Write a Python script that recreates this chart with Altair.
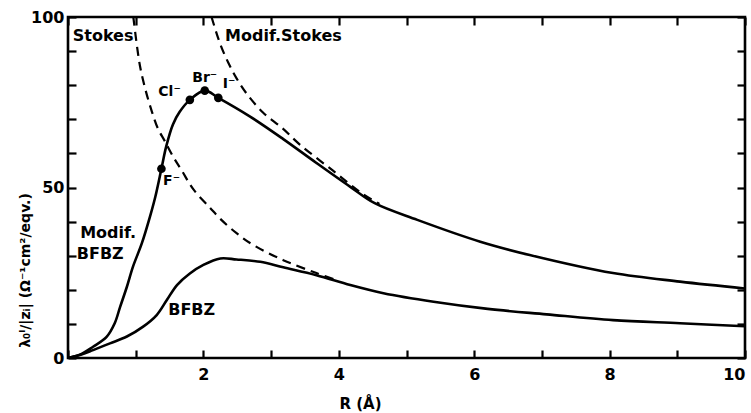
import altair as alt
import pandas as pd

# ---- data ----
modif_bfbz_x = [0, 0.2, 0.37, 0.57, 0.69, 0.77, 0.87, 0.96, 1.09, 1.21, 1.29, 1.38, 1.45, 1.55,
                1.65, 1.80, 2.02, 2.22, 2.69, 3.18, 3.67, 4.17, 4.53, 5.16, 6.09, 6.82, 8.05, 9.04, 10]
modif_bfbz_y = [0, 1.2, 3.3, 6.2, 10.2, 15, 20.9, 26.8, 33.6, 41.4, 47.3, 55.5, 62.0, 68.5,
                72.2, 75.7, 78.4, 76.3, 70.8, 64.2, 57.2, 50.2, 45.4, 40.5, 34.1, 30.2, 24.9, 22.4, 20.4]

bfbz_x = [0, 0.2, 0.37, 0.62, 0.87, 1.11, 1.31, 1.46, 1.61, 1.80, 2.00, 2.25, 2.49, 2.84,
          3.18, 3.67, 4.17, 4.66, 5.40, 6.2, 7.07, 8.05, 9.04, 10]
bfbz_y = [0, 1.0, 2.3, 4.3, 6.3, 9.2, 12.6, 17, 21.4, 24.8, 27.3, 29.2, 28.9, 28.2,
          26.6, 24.3, 21.4, 19, 16.5, 14.4, 12.8, 11.1, 10.2, 9.3]

stokes_x = [0.965, 1.06, 1.14, 1.24, 1.33, 1.43, 1.56, 1.68, 1.85, 2.10, 2.25, 2.49, 2.74, 3.18, 3.67, 4.0]
stokes_y = [100, 86, 79, 72.2, 67.2, 63.6, 58.8, 55, 49.5, 44, 40.8, 36.6, 33.1, 28.7, 24.9, 22.6]

mstokes_x = [2.12, 2.25, 2.37, 2.49, 2.64, 2.88, 3.16, 3.43, 3.91, 4.36, 4.6]
mstokes_y = [100, 92.0, 86.5, 82.0, 77.5, 72.0, 67.5, 62.5, 55.0, 48.0, 45.2]

ion_names = ["F⁻", "Cl⁻", "Br⁻", "I⁻"]
ion_x = [1.38, 1.80, 2.02, 2.22]
ion_y = [55.5, 75.7, 78.4, 76.3]
ion_label_x = [1.53, 1.50, 2.02, 2.38]
ion_label_y = [51.8, 78.1, 82, 80.4]

curve_labels = ["Stokes", "Modif.Stokes", "Modif.", "BFBZ", "BFBZ"]
curve_label_x = [0.07, 2.32, 0.18, 0.13, 1.48]
curve_label_y = [94.3, 94.3, 36.8, 30.5, 14]

x_tick_values = list(range(0, 11))
y_tick_values = list(range(0, 101, 10))

FONT = "DejaVu Sans"
TICK = 8

solid = pd.concat([
    pd.DataFrame({"x": modif_bfbz_x, "y": modif_bfbz_y, "s": "Modif. BFBZ"}),
    pd.DataFrame({"x": bfbz_x, "y": bfbz_y, "s": "BFBZ"}),
])
dashed = pd.concat([
    pd.DataFrame({"x": stokes_x, "y": stokes_y, "s": "Stokes"}),
    pd.DataFrame({"x": mstokes_x, "y": mstokes_y, "s": "Modif. Stokes"}),
])
ions = pd.DataFrame({"x": ion_x, "y": ion_y, "name": ion_names})
ion_labels = pd.DataFrame({"x": ion_label_x, "y": ion_label_y, "name": ion_names})
clabels = pd.DataFrame({"x": curve_label_x, "y": curve_label_y, "t": curve_labels})

xscale = alt.Scale(domain=[0, 10], nice=False, zero=False)
yscale = alt.Scale(domain=[0, 100], nice=False, zero=False)

tick_common = dict(ticks=True, tickSize=TICK, tickWidth=2.2, tickColor="black",
                   offset=-TICK, domain=False, grid=False)

xaxis = alt.Axis(values=x_tick_values, orient="bottom",
                 labelExpr="datum.value % 2 == 0 && datum.value > 0 ? datum.label : ''",
                 labelFont=FONT, labelFontWeight="bold", labelFontSize=16, labelColor="black",
                 labelPadding=8, title="R (Å)", titleFont=FONT, titleFontWeight="bold",
                 titleFontSize=15, titleColor="black", titleX=292, titleY=45 + TICK,
                 titleBaseline="middle", titleAlign="center", **tick_common)
yaxis = alt.Axis(values=y_tick_values, orient="left",
                 labelExpr="datum.value % 50 == 0 ? datum.label : ''",
                 labelFont=FONT, labelFontWeight="bold", labelFontSize=16, labelColor="black",
                 labelPadding=4, labelBaseline="middle",
                 title="λ₀ˡ/|zᵢ| (Ω⁻¹cm²/eqv.)", titleFont=FONT, titleFontWeight="bold",
                 titleFontSize=14, titleColor="black", titleAngle=270, titleX=-43 - TICK, titleY=253,
                 titleAlign="center", titleBaseline="middle", **tick_common)
xaxis_top = alt.Axis(values=x_tick_values, orient="top", labels=False, title=None, **tick_common)
yaxis_right = alt.Axis(values=y_tick_values, orient="right", labels=False, title=None, **tick_common)

X = alt.X("x:Q", scale=xscale, axis=None)
Y = alt.Y("y:Q", scale=yscale, axis=None)

axes_bl = alt.Chart(ions).mark_point(opacity=0).encode(
    x=alt.X("x:Q", scale=xscale, axis=xaxis), y=alt.Y("y:Q", scale=yscale, axis=yaxis))
axes_tr = alt.Chart(ions).mark_point(opacity=0).encode(
    x=alt.X("x:Q", scale=xscale, axis=xaxis_top), y=alt.Y("y:Q", scale=yscale, axis=yaxis_right))

solid_layer = alt.Chart(solid).mark_line(color="black", strokeWidth=2.6, interpolate="catmull-rom",
                                          clip=True).encode(x=X, y=Y, detail="s:N")
dashed_layer = alt.Chart(dashed).mark_line(color="black", strokeWidth=2.2, strokeDash=[9, 6],
                                           interpolate="catmull-rom", clip=True).encode(x=X, y=Y, detail="s:N")
point_layer = alt.Chart(ions).mark_circle(color="black", size=75, opacity=1).encode(x=X, y=Y)
ion_text = alt.Chart(ion_labels).mark_text(font=FONT, fontWeight="bold", fontSize=14,
                                          color="black").encode(x=X, y=Y, text="name:N")
curve_text = alt.Chart(clabels).mark_text(font=FONT, fontWeight="bold", fontSize=16, color="black",
                                         align="left", baseline="middle").encode(x=X, y=Y, text="t:N")

chart = alt.layer(
    axes_bl, axes_tr, dashed_layer, solid_layer, point_layer, ion_text, curve_text,
).resolve_axis(x="independent", y="independent").properties(
    width=677, height=341,
    autosize=alt.AutoSizeParams(type="none"),
    padding={"left": 68, "top": 17, "right": 6, "bottom": 55},
    background="white",
).configure_view(stroke="black", strokeWidth=2.6)

chart.save("out.html", embed_options={"renderer": "svg", "actions": False})
